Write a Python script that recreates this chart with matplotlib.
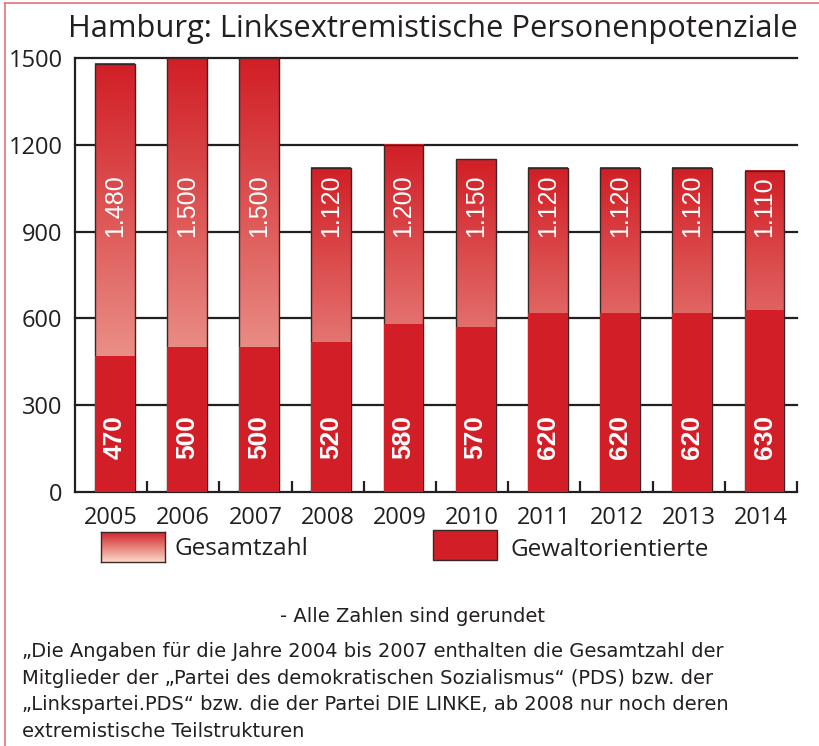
import matplotlib
matplotlib.use('Agg')
import matplotlib.pyplot as plt
from matplotlib.patches import Rectangle
from matplotlib.lines import Line2D
import numpy as np

years = ['2005', '2006', '2007', '2008', '2009', '2010', '2011', '2012', '2013', '2014']
gesamt = [1480, 1500, 1500, 1120, 1200, 1150, 1120, 1120, 1120, 1110]
gewalt = [470, 500, 500, 520, 580, 570, 620, 620, 620, 630]
gesamt_labels = ['1.480', '1.500', '1.500', '1.120', '1.200', '1.150', '1.120', '1.120', '1.120', '1.110']
yticks = [0, 300, 600, 900, 1200, 1500]

title = 'Hamburg: Linksextremistische Personenpotenziale'
note1 = '- Alle Zahlen sind gerundet'
note_lines = ['\u201eDie Angaben f\u00fcr die Jahre 2004 bis 2007 enthalten die Gesamtzahl der',
              'Mitglieder der \u201ePartei des demokratischen Sozialismus\u201c (PDS) bzw. der',
              '\u201eLinkspartei.PDS\u201c bzw. die der Partei DIE LINKE, ab 2008 nur noch deren',
              'extremistische Teilstrukturen']

DARK = np.array([209, 31, 38]) / 255
LIGHT = np.array([250, 218, 200]) / 255
SOLID = '#d21f27'
TXT = '#231f20'
W, H = 819, 746

def gradient(n=256, p=0.8):
    # rows go bottom -> top (origin='lower')
    f = np.linspace(0, 1, n) ** p
    return (LIGHT[None, :] + (DARK - LIGHT)[None, :] * f[:, None])[:, None, :]

fig = plt.figure(figsize=(W / 100, H / 100), dpi=100)
ax = fig.add_axes([75 / W, 1 - 492 / H, 722 / W, 434 / H])

x = np.arange(len(years))
off = 0.05
bw = 0.55
grad = gradient()

for xi, tot in zip(x, gesamt):
    ax.imshow(grad, extent=[xi + off - bw / 2, xi + off + bw / 2, 0, tot],
              origin='lower', aspect='auto', zorder=2, interpolation='bilinear')
    ax.add_patch(Rectangle((xi + off - bw / 2, 0), bw, tot, fill=False,
                           edgecolor='#3a2626', linewidth=1.0, zorder=3))
ax.bar(x + off, gewalt, width=bw, color=SOLID, edgecolor='none', zorder=4)

for xi, lab, gw in zip(x, gesamt_labels, gewalt):
    ax.text(xi + off, 880, lab, rotation=90, ha='center', va='bottom', color='white',
            fontsize=18, family='Liberation Sans', zorder=5)
    ax.text(xi + off, 115, str(gw), rotation=90, ha='center', va='bottom', color='white',
            fontsize=19, fontweight='bold', family='Liberation Sans', zorder=5)

for yv in yticks[1:]:
    ax.axhline(yv, color=TXT, linewidth=1.6, zorder=1, clip_on=False)

ax.set_xlim(-0.5, len(years) - 0.5)
ax.set_ylim(0, 1500)
for s in ['top', 'right']:
    ax.spines[s].set_visible(False)
for s in ['left', 'bottom']:
    ax.spines[s].set_linewidth(1.6)
    ax.spines[s].set_color(TXT)

ax.set_yticks(yticks)
ax.set_yticklabels([str(v) for v in yticks], fontsize=17, family='Open Sans', color=TXT)
ax.tick_params(axis='y', length=0, pad=9)
ax.set_xticks(np.arange(len(years)) + 0.5)
ax.set_xticklabels([])
ax.tick_params(axis='x', direction='in', length=8, width=1.6, color=TXT)
ax.set_xticks(x, minor=True)
ax.set_xticklabels(years, minor=True, fontsize=17, family='Open Sans', color=TXT)
ax.tick_params(axis='x', which='minor', length=0, pad=10)

fig.text(68 / W, 1 - 37 / H, title, fontsize=22.2, family='Open Sans', color=TXT,
         va='baseline', ha='left')

# legend
lax = fig.add_axes([101 / W, 1 - 562 / H, 64 / W, 30 / H])
lax.imshow(gradient(p=1.0), extent=[0, 1, 0, 1], origin='lower', aspect='auto')
lax.set_xticks([])
lax.set_yticks([])
for s in lax.spines.values():
    s.set_color('#3a2626')
    s.set_linewidth(1.0)
fig.text(175 / W, 1 - 555 / H, 'Gesamtzahl', fontsize=17.5, family='Open Sans',
         color=TXT, va='baseline')
fig.add_artist(Rectangle((433 / W, 1 - 560 / H), 64 / W, 30 / H, facecolor=SOLID,
                         edgecolor='#3a2626', linewidth=1.0, transform=fig.transFigure))
fig.text(510 / W, 1 - 556 / H, 'Gewaltorientierte', fontsize=17.5, family='Open Sans',
         color=TXT, va='baseline')

# notes
fig.text(412 / W, 1 - 622 / H, note1, fontsize=14, family='DejaVu Sans',
         color=TXT, ha='center', va='baseline')
for i, line in enumerate(note_lines):
    fig.text(22 / W, 1 - (657 + 26.7 * i) / H, line, fontsize=14, family='DejaVu Sans',
             color=TXT, ha='left', va='baseline')

# frame
fig.add_artist(Line2D([5 / W, 5 / W], [0, 1 - 3 / H], color='#e6707a', linewidth=1.2,
                      transform=fig.transFigure))
fig.add_artist(Line2D([5 / W, 1], [1 - 3 / H, 1 - 3 / H], color='#e6707a', linewidth=1.2,
                      transform=fig.transFigure))

fig.savefig('out.png', dpi=100)
